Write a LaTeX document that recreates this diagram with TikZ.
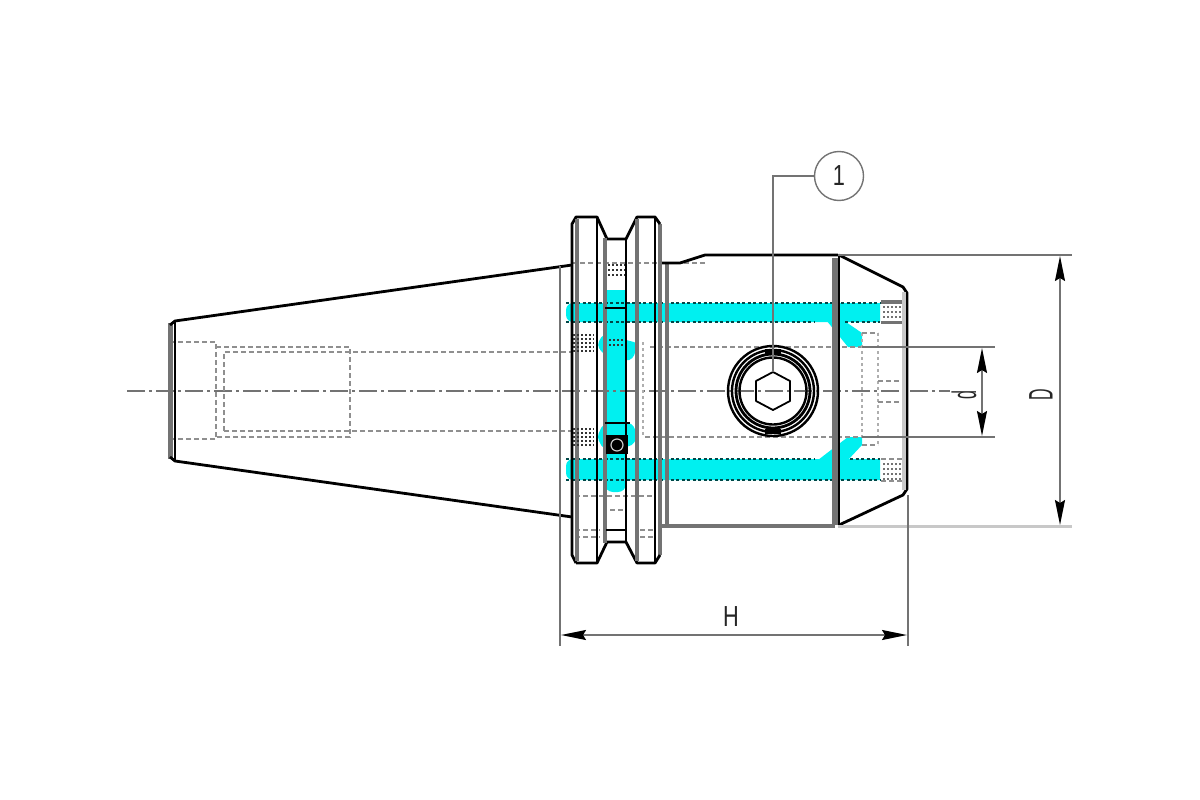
\documentclass[tikz,border=0pt]{standalone}
\usepackage{fontspec}
\setmainfont{Liberation Sans}
\usetikzlibrary{arrows.meta}
\definecolor{oilcyan}{RGB}{0,240,240}
\definecolor{linegrey}{RGB}{115,115,115}
\definecolor{palegrey}{RGB}{200,200,200}
\newcommand{\narrowtext}[1]{\scalebox{.75}[1]{#1}}
\newcommand{\sidetext}[1]{\scalebox{.47}[1]{#1}}
\tikzset{
  outline/.style={black, line width=2.8pt, line join=round},
  band/.style={linegrey, line width=4.5pt},
  thinline/.style={linegrey, line width=1.5pt},
  hidden/.style={linegrey!80, line width=1.5pt, dash pattern=on 5pt off 3pt},
  hiddendot/.style={palegrey!70!linegrey, line width=2pt, dash pattern=on 3pt off 3pt},
  axisline/.style={linegrey, line width=1.6pt, dash pattern=on 18pt off 4pt on 3pt off 4pt},
  oilrim/.style={black!70!oilcyan, line width=1.2pt, dash pattern=on 3pt off 2.5pt},
  dimarrow/.style={linegrey, line width=1.7pt, {Stealth[black, inset=3pt, length=25pt, width=10pt]}-{Stealth[black, inset=3pt, length=25pt, width=10pt]}},
  dimlabel/.style={inner sep=0pt, font=\fontsize{29}{29}\selectfont, text=black!85},
  sidelabel/.style={inner sep=0pt, rotate=90, font=\fontsize{34}{34}\selectfont, text=black!85},
  hatchspot/.style={black!80, line width=1.4pt, dash pattern=on 2pt off 2pt},
}
\begin{document}
\begin{tikzpicture}[x=1pt, y=-1pt]
    \useasboundingbox (0, 0) rectangle (1200, 800) ;
    \fill[oilcyan, rounded corners=7pt] (880, 303) -- (566, 303) -- (566, 322) -- (880, 322) ;
    \fill[oilcyan, rounded corners=7pt] (880, 459) -- (566, 459) -- (566, 480) -- (880, 480) ;
    \fill[oilcyan] (605, 290) rectangle (626, 320) ;
    \fill[oilcyan, rounded corners=8pt] (605, 300) -- (605, 492) -- (626, 492) -- (626, 300) -- cycle ;
    \fill[oilcyan, rounded corners=4pt] (597, 345) -- (603, 334) -- (626, 340) -- (638, 343) -- (633, 359) -- (625, 361) -- (603, 354) -- cycle ;
    \fill[oilcyan, rounded corners=4pt] (597, 437) -- (603, 424) -- (632, 423) -- (638, 436) -- (632, 446) -- (603, 449) -- cycle ;
    \fill[oilcyan] (818, 310) -- (840, 318) -- (862, 333) -- (862, 347) -- (848, 347) -- cycle ;
    \fill[oilcyan] (818, 460) -- (848, 437) -- (862, 437) -- (862, 445) -- (848, 460) -- cycle ;
    \draw[oilrim] (566, 303) -- (880, 303) ;
    \draw[oilrim] (566, 322) -- (815, 322) (845, 322) -- (880, 322) ;
    \draw[oilrim] (566, 459) -- (815, 459) (850, 459) -- (880, 459) ;
    \draw[oilrim] (566, 480) -- (880, 480) ;
    \draw[axisline] (127, 391) -- (950, 391) ;
    \draw[hidden] (170, 342) -- (216, 342) -- (216, 439) -- (170, 439) ;
    \draw[hidden] (216, 347) -- (350, 347) -- (350, 437) -- (216, 437) ;
    \draw[hidden] (224, 431) -- (224, 352) -- (572, 352) ;
    \draw[hidden] (224, 431) -- (572, 431) ;
    \draw[hidden] (572, 263) -- (705, 263) ;
    \draw[hidden] (650, 347) -- (862, 347) ;
    \draw[hidden] (645, 437) -- (862, 437) ;
    \draw[hiddendot] (643, 342) -- (643, 437) ;
    \draw[hidden] (575, 496) -- (655, 496) ;
    \draw[hidden] (610, 510) -- (625, 510) ;
    \draw[hidden] (575, 530) -- (600, 530) (640, 530) -- (655, 530) ;
    \draw[hidden] (575, 537) -- (600, 537) (640, 537) -- (655, 537) ;
    \draw[hiddendot] (862, 333) -- (862, 437) ;
    \draw[hiddendot] (878, 333) -- (878, 445) ;
    \draw[hidden] (862, 333) -- (878, 333) ;
    \draw[hidden] (862, 445) -- (878, 445) ;
    \draw[hidden] (878, 381) -- (903, 381) ;
    \draw[hidden] (878, 402) -- (903, 402) ;
    \draw[band, line width=5.5pt] (170.5, 323) -- (170.5, 459) ;
    \draw[outline] (175, 321) -- (175, 461) ;
    \draw[outline] (170, 325) -- (175, 321) -- (572, 265) ;
    \draw[outline] (170, 457) -- (175, 461) -- (572, 517) ;
    \draw[thinline] (560, 266) -- (560, 517) ;
    \draw[band] (660, 224) -- (660, 555) ;
    \draw[outline] (576, 563) -- (572, 555) -- (572, 224) -- (576, 217) -- (597, 217) -- (607, 239) -- (626, 239) -- (637, 217) -- (655, 217) -- (660, 224) ;
    \draw[outline] (660, 555) -- (655, 563) -- (637, 563) -- (626, 542) -- (607, 542) -- (597, 563) -- (576, 563) ;
    \draw[band] (577, 219) -- (577, 561) ;
    \draw[outline] (597, 217) -- (597, 563) ;
    \draw[band] (605, 238) -- (605, 543) ;
    \draw[outline] (626, 239) -- (626, 542) ;
    \draw[band] (637, 219) -- (637, 561) ;
    \draw[outline] (655, 217) -- (655, 563) ;
    \draw[band] (667, 263) -- (667, 525) ;
    \draw[outline] (606, 530) -- (626, 530) ;
    \draw[outline, line width=2pt] (605, 308) -- (626, 308) ;
    \draw[outline, line width=2pt] (605, 423) -- (630, 423) ;
    \draw[outline] (662, 263) -- (680, 263) -- (705, 255) -- (838, 255) ;
    \draw[band, line width=3.5pt] (662, 526) -- (835, 526) ;
    \draw[band, line width=6pt] (835, 258) -- (835, 525) ;
    \draw[outline] (839, 255) -- (839, 525) ;
    \draw[outline] (839, 255) -- (903, 287) -- (907, 293) -- (907, 489) -- (903, 495) -- (839, 525) ;
    \draw[palegrey, line width=4pt] (904, 292) -- (904, 490) ;
    \fill[black] (606, 435) rectangle (628, 454) ;
    \draw[palegrey, line width=1.2pt] (617, 445) circle (6) ;
    \foreach \ypos in {335, 339, 343, 347, 351} {
      \draw[hatchspot] (573, \ypos) -- (594, \ypos) ;
    }
    \foreach \ypos in {429, 433, 437, 441, 445} {
      \draw[hatchspot] (573, \ypos) -- (594, \ypos) ;
    }
    \foreach \ypos in {265, 270, 275} {
      \draw[hatchspot] (608, \ypos) -- (625, \ypos) ;
    }
    \foreach \ypos in {340, 345} {
      \draw[hatchspot] (609, \ypos) -- (624, \ypos) ;
    }
    \foreach \ypos in {307, 312, 317} {
      \draw[hatchspot, black!55] (883, \ypos) -- (901, \ypos) ;
    }
    \foreach \ypos in {464, 469, 474, 479} {
      \draw[hatchspot, black!55] (883, \ypos) -- (901, \ypos) ;
    }
    \draw[band, line width=3.5pt] (881, 302) -- (902, 302) ;
    \draw[band, line width=3pt] (881, 322) -- (902, 322) ;
    \draw[hidden] (881, 459) -- (902, 459) ;
    \draw[hidden] (881, 481) -- (902, 481) ;
    \draw[outline, line width=2.4pt] (773, 391) circle (45) ;
    \draw[outline, line width=2.4pt] (773, 391) circle (41) ;
    \draw[outline, line width=2.8pt] (773, 391) circle (37) ;
    \draw[outline, line width=2.4pt] (773, 391) circle (33.5) ;
    \draw[outline, line width=5pt] (765, 351) -- (781, 351) ;
    \draw[outline, line width=5pt] (765, 431) -- (781, 431) ;
    \draw[outline, line width=1.8pt] (773, 372) -- (790, 381) -- (790, 401) -- (773, 410) -- (756, 401) -- (756, 381) -- cycle ;
    \draw[thinline, line width=1.8pt] (773, 372) -- (773, 350) ;
    \node[circle, draw=linegrey, line width=1.4pt, minimum size=49pt, inner sep=0pt, dimlabel] (balloon) at (839, 176) {\narrowtext{1}} ;
    \coordinate (screwtop) at (773, 350) ;
    \draw[thinline] (balloon.west) -| (screwtop) ;
    \draw[thinline] (838, 255) -- (1072, 255) ;
    \draw[palegrey, line width=3pt] (838, 526) -- (1072, 526) ;
    \draw[thinline] (862, 347) -- (995, 347) ;
    \draw[thinline] (862, 437) -- (995, 437) ;
    \draw[thinline] (560, 517) -- (560, 646) ;
    \draw[thinline] (908, 495) -- (908, 646) ;
    \draw[dimarrow] (1060, 256) -- (1060, 525) ;
    \draw[dimarrow] (982, 348) -- (982, 436) ;
    \draw[dimarrow] (561, 635) -- (907, 635) ;
    \node[dimlabel] (labelH) at (731, 617) {\narrowtext{H}} ;
    \node[sidelabel] (labeld) at (964, 395) {\sidetext{d}} ;
    \node[sidelabel] (labelD) at (1041, 395) {\sidetext{D}} ;
  \end{tikzpicture}
\end{document}
